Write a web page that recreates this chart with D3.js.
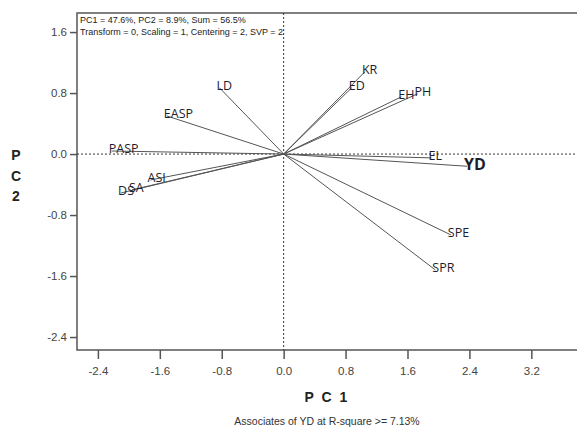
<!DOCTYPE html>
<html>
<head>
<meta charset="utf-8">
<script src="https://cdn.jsdelivr.net/npm/d3@7"></script>
<style>
  body { margin: 0; background: #fff; }
</style>
</head>
<body>
<div id="chart"></div>
<script>
// Vector data (trait, PC1 score, PC2 score)
const traits = ["LD", "EASP", "PASP", "ASI", "SA", "DS", "KR", "ED", "EH", "PH", "EL", "YD", "SPE", "SPR"];
const pc1 = [-0.83, -1.51, -2.22, -1.72, -1.96, -2.10, 1.05, 0.88, 1.52, 1.73, 1.91, 2.37, 2.16, 1.96];
const pc2 = [0.87, 0.50, 0.04, -0.34, -0.47, -0.51, 1.08, 0.87, 0.75, 0.79, -0.05, -0.16, -1.06, -1.52];

const xTicks = [-2.4, -1.6, -0.8, 0.0, 0.8, 1.6, 2.4, 3.2];
const yTicks = [-2.4, -1.6, -0.8, 0.0, 0.8, 1.6];

const headerLines = [
  "PC1 = 47.6%, PC2 = 8.9%, Sum = 56.5%",
  "Transform = 0, Scaling = 1, Centering = 2, SVP = 2"
];

const width = 577;
const height = 429;
const marginTop = 13;
const marginRight = 0;
const marginBottom = 79;
const marginLeft = 77;

const x = d3.scaleLinear()
    .domain([-2.67, 3.79])
    .range([marginLeft, width - marginRight]);

const y = d3.scaleLinear()
    .domain([-2.57, 1.85])
    .range([height - marginBottom, marginTop]);

const fmt = d => d.toFixed(1);

const svg = d3.select("#chart")
  .append("svg")
    .attr("width", width)
    .attr("height", height)
    .attr("viewBox", [0, 0, width, height])
    .style("font-family", "'Liberation Sans', Arial, sans-serif");

// frame
svg.append("rect")
    .attr("x", marginLeft)
    .attr("y", marginTop)
    .attr("width", width - marginLeft + 5)
    .attr("height", height - marginBottom - marginTop)
    .attr("fill", "none")
    .attr("stroke", "#555")
    .attr("stroke-width", 1.5);

// origin dashed lines
svg.append("line")
    .attr("x1", x(0)).attr("x2", x(0))
    .attr("y1", marginTop).attr("y2", height - marginBottom)
    .attr("stroke", "#333")
    .attr("stroke-dasharray", "2,2");
svg.append("line")
    .attr("x1", marginLeft).attr("x2", width)
    .attr("y1", y(0)).attr("y2", y(0))
    .attr("stroke", "#333")
    .attr("stroke-dasharray", "2,2");

// x axis
svg.append("g")
    .attr("transform", `translate(0,${height - marginBottom})`)
    .call(d3.axisBottom(x).tickValues(xTicks).tickFormat(fmt).tickSize(9).tickSizeOuter(0).tickPadding(8))
    .call(g => g.select(".domain").remove())
    .call(g => g.selectAll(".tick line").attr("stroke", "#555").attr("stroke-width", 1.5))
    .call(g => g.selectAll(".tick text").attr("fill", "#444").style("font-size", "11.5px"));

// y axis
svg.append("g")
    .attr("transform", `translate(${marginLeft},0)`)
    .call(d3.axisLeft(y).tickValues(yTicks).tickFormat(fmt).tickSize(7).tickSizeOuter(0).tickPadding(3))
    .call(g => g.select(".domain").remove())
    .call(g => g.selectAll(".tick line").attr("stroke", "#555").attr("stroke-width", 1.5))
    .call(g => g.selectAll(".tick text").attr("fill", "#444").style("font-size", "11.5px"));

// axis titles
svg.append("text")
    .attr("x", (marginLeft + width) / 2)
    .attr("y", 402)
    .attr("text-anchor", "middle")
    .style("font-weight", "bold")
    .style("font-size", "14px")
    .style("letter-spacing", "2px")
    .attr("fill", "#222")
    .text("P C 1");

svg.append("g")
    .selectAll("text")
    .data(["P", "C", "2"])
    .join("text")
    .attr("x", 16)
    .attr("y", (d, i) => 160 + i * 20.5)
    .attr("text-anchor", "middle")
    .style("font-weight", "bold")
    .style("font-size", "14px")
    .attr("fill", "#222")
    .text(d => d);

svg.append("text")
    .attr("x", (marginLeft + width) / 2)
    .attr("y", 425)
    .attr("text-anchor", "middle")
    .style("font-size", "10.5px")
    .attr("fill", "#333")
    .text("Associates of YD at R-square >= 7.13%");

// header
svg.append("g")
    .selectAll("text")
    .data(headerLines)
    .join("text")
    .attr("x", marginLeft + 3)
    .attr("y", (d, i) => 23 + i * 12)
    .style("font-size", "9px")
    .attr("fill", "#222")
    .text(d => d);

// vectors
const vecs = traits.map((t, i) => ({trait: t, a: pc1[i], b: pc2[i]}));

svg.append("g")
    .attr("stroke", "#555")
    .attr("stroke-width", 1)
    .selectAll("line")
    .data(vecs)
    .join("line")
    .attr("x1", x(0))
    .attr("y1", y(0))
    .attr("x2", d => x(d.a))
    .attr("y2", d => y(d.b));

svg.append("g")
    .selectAll("text")
    .data(vecs)
    .join("text")
    .attr("x", d => x(d.a) - 3)
    .attr("y", d => y(d.b) - 2)
    .attr("dy", "0.35em")
    .attr("fill", "#1d1d2b")
    .style("font-family", "'Open Sans', 'Liberation Sans', sans-serif")
    .style("font-size", d => d.trait === "YD" ? "16px" : "12.5px")
    .style("font-weight", d => d.trait === "YD" ? "bold" : "normal")
    .text(d => d.trait);
</script>
</body>
</html>
